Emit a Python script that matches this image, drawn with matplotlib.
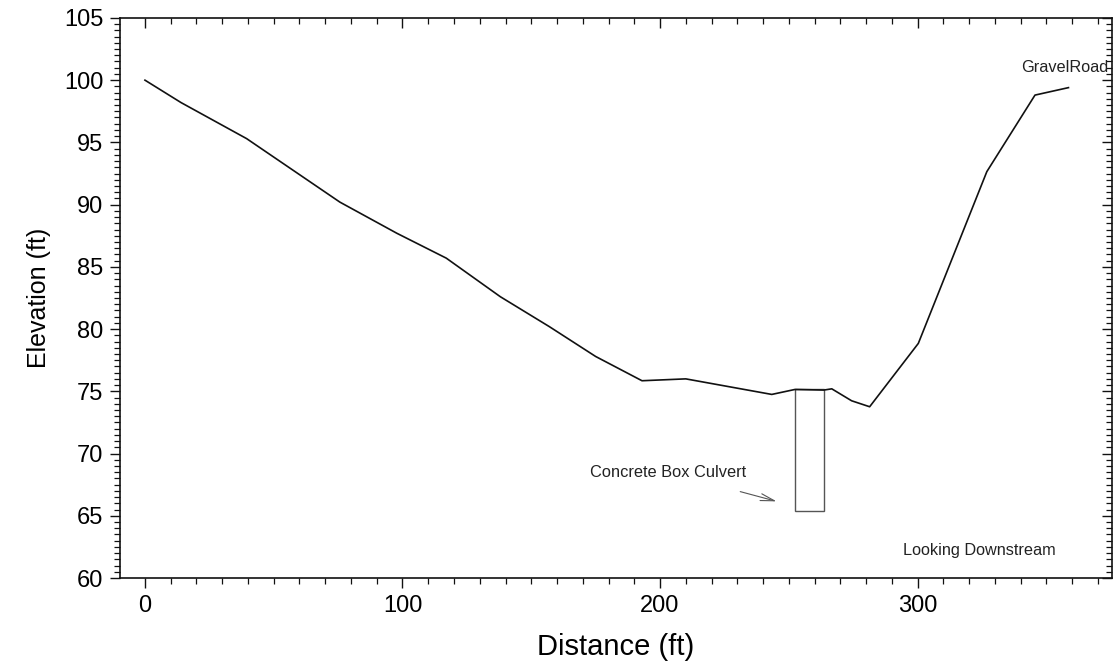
import matplotlib.pyplot as plt
from matplotlib.ticker import MultipleLocator
from matplotlib.patches import Rectangle

# ground profile
DISTANCE = [0, 14, 39.5, 75.7, 97.8, 117, 138, 157, 175, 193, 210, 243.4,
            252.4, 263.6, 266.7, 274.4, 281.4, 300.3, 326.9, 345.6, 358.6]
ELEVATION = [100.0, 98.2, 95.3, 90.2, 87.7, 85.7, 82.6, 80.2, 77.8, 75.85, 76.0, 74.75,
             75.15, 75.1, 75.2, 74.24, 73.76, 78.85, 92.65, 98.8, 99.4]

# box culvert extent
CULVERT_X = [252.4, 263.6]
CULVERT_Y = [65.4, 75.15]

X_TICKS = [0, 100, 200, 300]
Y_TICKS = [60, 65, 70, 75, 80, 85, 90, 95, 100, 105]

plt.rcParams['font.family'] = ['Liberation Sans', 'DejaVu Sans']


def main():
	fig = plt.figure( figsize=( 11.15, 6.64 ), dpi=100 )
	ax = fig.add_axes( [ 0.1076, 0.1295, 0.8897, 0.8435 ] )

	ax.plot( DISTANCE, ELEVATION, color='#111111', lw=1.2 )

	# culvert box
	ax.add_patch( Rectangle( ( CULVERT_X[0], CULVERT_Y[0] ), CULVERT_X[1] - CULVERT_X[0],
							 CULVERT_Y[1] - CULVERT_Y[0], fill=False, edgecolor='#555555', lw=1.0 ) )

	ax.annotate( '', xy=( 246.3, 66.1 ), xytext=( 230.1, 67.0 ),
				 arrowprops=dict( arrowstyle='->,head_length=1.0,head_width=0.25', color='#555555', lw=0.8 ) )
	ax.text( 172.8, 68.5, 'Concrete Box Culvert', fontsize=11.8, va='center', ha='left', color='#222222' )
	ax.text( 374, 101, 'GravelRoad', fontsize=11.7, va='center', ha='right', color='#222222' )
	ax.text( 294.4, 62.2, 'Looking Downstream', fontsize=11.7, va='center', ha='left', color='#222222' )

	ax.set_xlim( -9.7, 375.5 )
	ax.set_ylim( 60, 105 )
	ax.set_xticks( X_TICKS )
	ax.set_yticks( Y_TICKS )
	ax.xaxis.set_minor_locator( MultipleLocator( 10 ) )
	ax.yaxis.set_minor_locator( MultipleLocator( 0.5 ) )

	ax.tick_params( which='both', bottom=True, left=True, top=True, right=True, labelsize=17, color='#111111' )
	ax.tick_params( which='major', length=7, width=1.0, pad=5 )
	ax.tick_params( which='minor', length=4, width=0.9 )
	# top/right ticks point into the plot
	for t in ax.xaxis.get_major_ticks() + ax.xaxis.get_minor_ticks():
		t.tick2line.set_marker( 3 )
	for t in ax.yaxis.get_major_ticks() + ax.yaxis.get_minor_ticks():
		t.tick2line.set_marker( 0 )

	for s in ax.spines.values():
		s.set_linewidth( 1.2 )
		s.set_color( '#111111' )

	ax.set_xlabel( 'Distance (ft)', fontsize=21, labelpad=12 )
	ax.set_ylabel( 'Elevation (ft)', fontsize=18, labelpad=9 )

	fig.savefig( 'out.png', dpi=100 )


if __name__ == '__main__':
	main()
